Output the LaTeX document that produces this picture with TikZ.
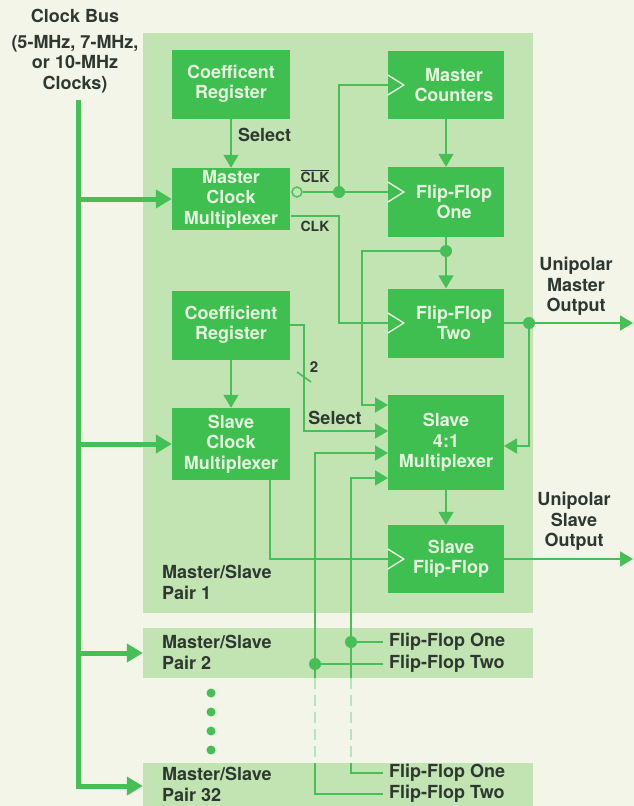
\documentclass[tikz,border=0pt]{standalone}
\usepackage{fontspec}
\setmainfont{TeX Gyre Heros}
\usepackage{tikz}
\usetikzlibrary{arrows.meta}
\definecolor{cCream}{HTML}{F3F5E8}
\definecolor{cPanel}{HTML}{C1E4B2}
\definecolor{cBox}{HTML}{3FBF50}
\definecolor{cLine}{HTML}{46BF57}
\definecolor{cInk}{HTML}{2E3830}
\definecolor{cPale}{HTML}{E6F6E0}

\begin{document}
\begin{tikzpicture}[x=1pt, y=-1pt,
  lbl/.style={font={\fontsize{18}{20.5}\selectfont\bfseries}, text=cInk, inner sep=0pt, align=center},
  clklbl/.style={lbl, font={\fontsize{14}{15}\selectfont\bfseries}},
  panel/.style={fill=cPanel, minimum width=390pt, inner sep=0pt},
  box/.style={fill=cBox, minimum width=118pt, minimum height=69pt, inner sep=0pt, align=center,
              text=cPale, font={\fontsize{18}{20.5}\selectfont\bfseries}},
  rbox/.style={box, minimum width=116pt},
  dot/.style={circle, fill=cLine, inner sep=0pt, minimum size=12pt},
  bubble/.style={circle, draw=cLine, fill=cPanel, line width=1.4pt, inner sep=0pt, minimum size=10pt},
  ln/.style={cLine, line width=1.6pt},
  arr/.style={ln, -{Triangle[length=13pt, width=15pt]}},
  bus/.style={cLine, line width=5pt, -{Triangle[length=16pt, width=18pt]}},
  gapline/.style={ln, cLine!40!white, dash pattern=on 11pt off 6pt},
  clkmark/.style={cPale, line width=1.4pt},
  sig/.style={lbl, anchor=west, inner xsep=6pt}]
\fill[cCream] (0,0) rectangle (634,806);
\useasboundingbox (0,0) rectangle (634,806);
% pair panels
\node[panel, minimum height=580pt] (pair1) at (338,323) {};
\node[panel, minimum height=50pt] (pair2) at (338,653) {};
\node[panel, minimum height=46pt] (pair32) at (338,786) {};
% master side
\node[box] (creg) at (231,84) {Coefficent\\Register};
\node[box, minimum height=62pt] (mcm) at (231,199) {Master\\Clock\\Multiplexer};
\node[rbox, minimum height=68pt] (mcnt) at (446,85) {\hspace*{16pt}Master\\\hspace*{16pt}Counters};
\node[rbox, minimum height=70pt] (ff1) at (446,202) {\hspace*{16pt}Flip-Flop\\\hspace*{16pt}One};
\node[rbox] (ff2) at (446,323) {\hspace*{16pt}Flip-Flop\\\hspace*{16pt}Two};
% slave side
\node[box] (sreg) at (231,325) {Coefficient\\Register};
\node[box, minimum height=72pt] (scm) at (231,444) {Slave\\Clock\\Multiplexer};
\node[rbox, minimum height=95pt] (smux) at (446,442.5) {Slave\\4:1\\Multiplexer};
\node[rbox, minimum height=68pt] (sff) at (446,559) {\hspace*{10pt}Slave\\\hspace*{10pt}Flip-Flop};
\foreach \b/\dy in {mcnt/0, ff1/10, ff2/0, sff/0}
  \draw[clkmark] ([yshift=\dy pt]\b.west) ++(0,-10) -- ++(16,10) -- ++(-16,10);
% junctions
\node[bubble] (bub) at (297,192) {};
\node[dot] (dclk) at (339,192) {};
\node[dot] (dff1) at (446,251) {};
\node[dot] (dmo) at (529,323) {};
\node[dot] (dp1) at (351,642) {};
\node[dot] (dp2) at (315,664) {};
\coordinate (bustop) at (78,100);
\coordinate (clkout) at (291,216);
\coordinate (scmout) at (270,480);
\coordinate (mout) at (633,323);
\coordinate (sout) at (633,559);
\coordinate (sin1) at (388,405);
\coordinate (sin2) at (388,431);
\coordinate (sin3) at (388,453);
\coordinate (sin4) at (388,478);
\coordinate (sin5) at (504,446);
% labels
\node[lbl] (busl) at (75,51) {Clock Bus\\[5pt](5-MHz, 7-MHz,\\or 10-MHz\\Clocks)};
\node[lbl, anchor=west] (msel) at (238,135) {Select};
\node[clklbl] (clkb) at (315,176) {$\overline{\mbox{CLK}}$};
\node[clklbl] (clk) at (315,226) {CLK};
\node[clklbl, font={\fontsize{15}{16}\selectfont\bfseries}] (wid) at (314,367) {2};
\node[lbl] (ssel) at (335,418) {Select};
\node[lbl] (mol) at (576,286.5) {Unipolar\\Master\\Output};
\node[lbl] (sol) at (574,521.5) {Unipolar\\Slave\\Output};
\node[lbl, anchor=west, align=left] (p1l) at (162,582.5) {Master/Slave\\Pair 1};
\node[lbl, anchor=west, align=left] (p2l) at (162,652.5) {Master/Slave\\Pair 2};
\node[lbl, anchor=west, align=left] (p32l) at (162,784.5) {Master/Slave\\Pair 32};
\node[sig] (p2ff1) at (383,642) {Flip-Flop One};
\node[sig] (p2ff2) at (383,664) {Flip-Flop Two};
\node[sig] (p32ff1) at (383,773) {Flip-Flop One};
\node[sig] (p32ff2) at (383,794) {Flip-Flop Two};
% clock bus
\draw[bus] (bustop) |- (pair32.west);
\foreach \t in {mcm, scm, pair2} \draw[bus] (bustop |- \t.west) -- (\t.west);
% master connections
\draw[arr] (creg) -- (mcm);
\draw[ln] (bub) -- (dclk) -- (ff1.west |- dclk);
\draw[ln] (dclk) |- (mcnt.west);
\draw[ln] (clkout) -| (dclk |- ff2.west) -- (ff2.west);
\draw[arr] (mcnt) -- (ff1);
\draw[ln] (ff1) -- (dff1);
\draw[arr] (dff1) -- (ff2);
\draw[arr] (dff1) -| ([xshift=-26pt]sin1) -- (sin1);
\draw[ln] (ff2) -- (dmo);
\draw[arr] (dmo) -- (mout);
\draw[arr] (dmo) |- (sin5);
% slave connections
\draw[arr] (sreg) -- (scm);
\draw[arr] (sreg.east) -| ([xshift=-84pt]sin2) -- (sin2);
\draw[ln] (297,372) -- (311,382);
\draw[arr] (dp2 |- pair2.south) |- (sin3);
\draw[arr] (dp1 |- pair2.south) |- (sin4);
\draw[gapline] (dp2 |- pair2.south) -- (dp2 |- pair32.north);
\draw[gapline] (dp1 |- pair2.south) -- (dp1 |- pair32.north);
\draw[ln] (dp2 |- pair32.north) |- (p32ff2.west);
\draw[ln] (dp1 |- pair32.north) |- (p32ff1.west);
\draw[ln] (dp1) -- (p2ff1.west);
\draw[ln] (dp2) -- (p2ff2.west);
\draw[ln] (scmout) |- (sff.west);
\draw[arr] (smux) -- (sff);
\draw[arr] (sff) -- (sout);
\foreach \y in {693,712,731,750} \fill[cLine] (211,\y) circle (4.5pt);
\end{tikzpicture}
\end{document}
